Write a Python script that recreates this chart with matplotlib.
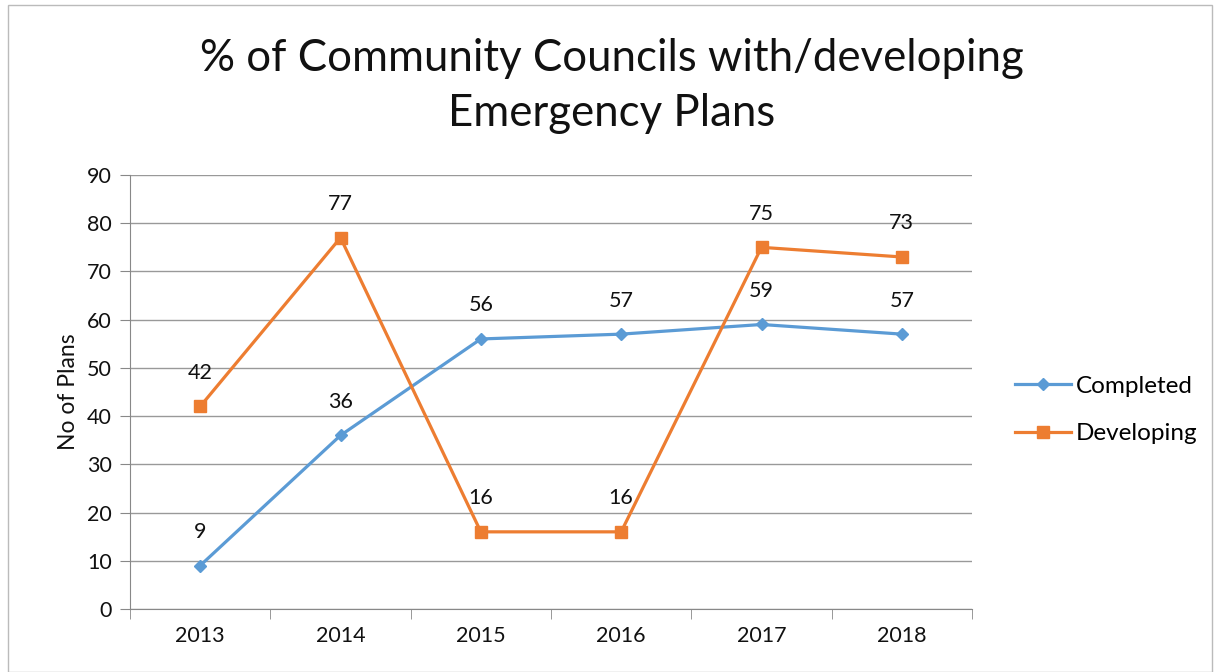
import matplotlib
matplotlib.use("Agg")
import matplotlib.pyplot as plt
from matplotlib.patches import Rectangle
from matplotlib.lines import Line2D

years = ["2013", "2014", "2015", "2016", "2017", "2018"]
completed = [9, 36, 56, 57, 59, 57]
developing = [42, 77, 16, 16, 75, 73]

plt.rcParams['font.family'] = ['Lato', 'DejaVu Sans']

W, H = 1214, 672
fig = plt.figure(figsize=(W / 100, H / 100), dpi=100)
ax = fig.add_axes([130 / W, 1 - 609 / H, (972 - 130) / W, (609 - 175) / H])

blue = "#5B9BD5"
orange = "#ED7D31"
x = list(range(len(years)))

ax.plot(x, completed, color=blue, lw=2.3, marker="D", ms=6.5, label="Completed", zorder=3)
ax.plot(x, developing, color=orange, lw=2.3, marker="s", ms=8.5, label="Developing", zorder=3)

for xi, v in zip(x, completed):
    ax.annotate(str(v), (xi, v), xytext=(0, 17), textcoords="offset points",
                ha="center", va="bottom", fontsize=15.5, color="#111111")
for xi, v in zip(x, developing):
    ax.annotate(str(v), (xi, v), xytext=(0, 17), textcoords="offset points",
                ha="center", va="bottom", fontsize=15.5, color="#111111")

ax.set_xlim(-0.5, len(years) - 0.5)
ax.set_ylim(0, 90)
ax.set_yticks(range(0, 91, 10))
ax.set_xticks(x)
ax.set_xticklabels(years)
ax.set_xticks([i - 0.5 for i in range(len(years) + 1)], minor=True)
ax.tick_params(axis="x", which="major", length=0, pad=12, labelsize=15.5)
ax.tick_params(axis="x", which="minor", length=7, color="#888888", direction="out")
ax.tick_params(axis="y", length=7, color="#888888", labelsize=15.5, pad=6)
for lab in ax.get_yticklabels() + ax.get_xticklabels():
    lab.set_color("#111111")
ax.yaxis.grid(True, color="#999999", lw=1)
ax.set_axisbelow(True)
for s in ["top", "right"]:
    ax.spines[s].set_visible(False)
ax.spines["left"].set_color("#888888")
ax.spines["bottom"].set_color("#888888")

ax.set_ylabel("No of Plans", fontsize=16.5, color="#111111", labelpad=6)

fig.text(612 / W, 1 - 86 / H, "% of Community Councils with/developing\nEmergency Plans",
         ha="center", va="center", fontsize=31.5, color="#111111", linespacing=1.45)

handles = [Line2D([], [], color=blue, lw=2.3, marker="D", ms=6.5),
           Line2D([], [], color=orange, lw=2.3, marker="s", ms=8.5)]
fig.legend(handles, ["Completed", "Developing"], loc="center left",
           bbox_to_anchor=(993 / W, 1 - 410 / H), frameon=False, fontsize=17.5,
           labelspacing=1.1, handlelength=2.3, handletextpad=0.2)

fig.patches.append(Rectangle((8 / W, 0), (W - 10) / W, 1 - 5 / H, transform=fig.transFigure,
                             fill=False, edgecolor="#BBBBBB", lw=1))

fig.savefig("out.png", dpi=100)
